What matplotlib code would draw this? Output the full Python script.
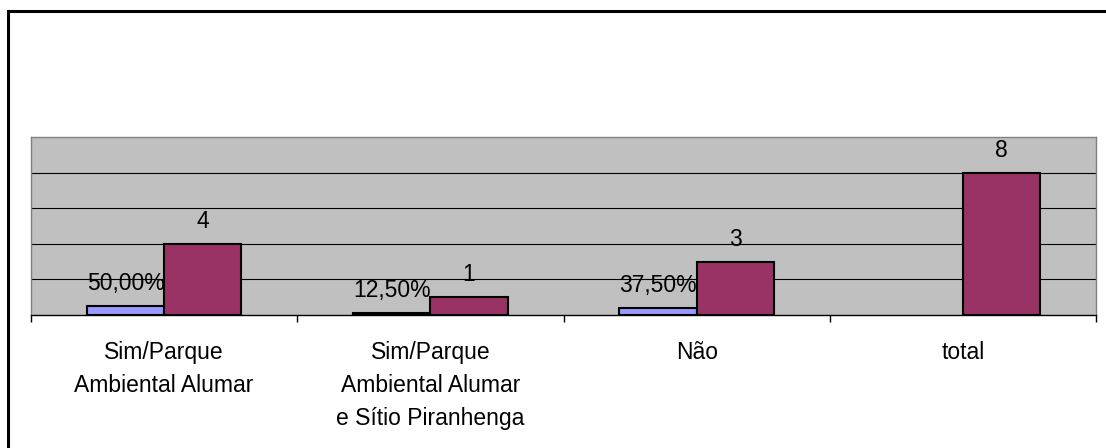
import numpy as np
import matplotlib.pyplot as plt
from matplotlib.patches import Rectangle

plt.rcParams["font.family"] = ["Liberation Sans", "DejaVu Sans"]

# Data
categories = ["Sim/Parque\nAmbiental Alumar",
              "Sim/Parque\nAmbiental Alumar\ne Sítio Piranhenga",
              "Não",
              "total"]
percent = [0.50, 0.125, 0.375, np.nan]
counts = [4, 1, 3, 8]

fig = plt.figure(figsize=(11.06, 4.48), dpi=100)
ax = fig.add_axes([31/1106, 1 - 315/448, (1096 - 31)/1106, (315 - 137)/448])

# outer frame (only left and top edges visible)
fig.patches.append(Rectangle((8/1106, -0.2), 1.2, 1 - 11/448 + 0.2,
                             transform=fig.transFigure, fill=False,
                             edgecolor="black", linewidth=2.2))

x = np.arange(len(categories))
w = 0.29

ax.set_facecolor("#C0C0C0")
ax.set_xlim(-0.5, len(categories) - 0.5)
ax.set_ylim(0, 10)
ax.set_yticks([2, 4, 6, 8])
ax.yaxis.grid(True, color="black", linewidth=0.8)
ax.set_axisbelow(True)
ax.tick_params(axis="y", length=0, labelleft=False)

ax.bar(x - w/2, percent, w, color="#9999FF", edgecolor="black", linewidth=1.5)
ax.bar(x + w/2, counts, w, color="#993366", edgecolor="black", linewidth=1.5)

for xi, p in zip(x, percent):
    if np.isnan(p):
        continue
    lab = f"{p*100:.2f}%".replace(".", ",")
    ax.annotate(lab, (xi - w/2, p), xytext=(0, 11.5), textcoords="offset points",
                ha="center", va="baseline", fontsize=16.5)
for xi, c in zip(x, counts):
    ax.annotate(str(c), (xi + w/2, c), xytext=(0, 11.5), textcoords="offset points",
                ha="center", va="baseline", fontsize=16.5)

# category labels and boundary ticks
ax.set_xticks(x)
ax.set_xticklabels(categories, fontsize=16.5, linespacing=1.55)
ax.tick_params(axis="x", which="major", length=0, pad=19)
ax.set_xticks(np.arange(-0.5, len(categories)), minor=True)
ax.tick_params(axis="x", which="minor", length=5, width=1, color="black")

for s in ["left", "right", "top"]:
    ax.spines[s].set_color("#808080")
    ax.spines[s].set_linewidth(1)
ax.spines["bottom"].set_color("black")
ax.spines["bottom"].set_linewidth(1)

fig.savefig("out.png", dpi=100)
